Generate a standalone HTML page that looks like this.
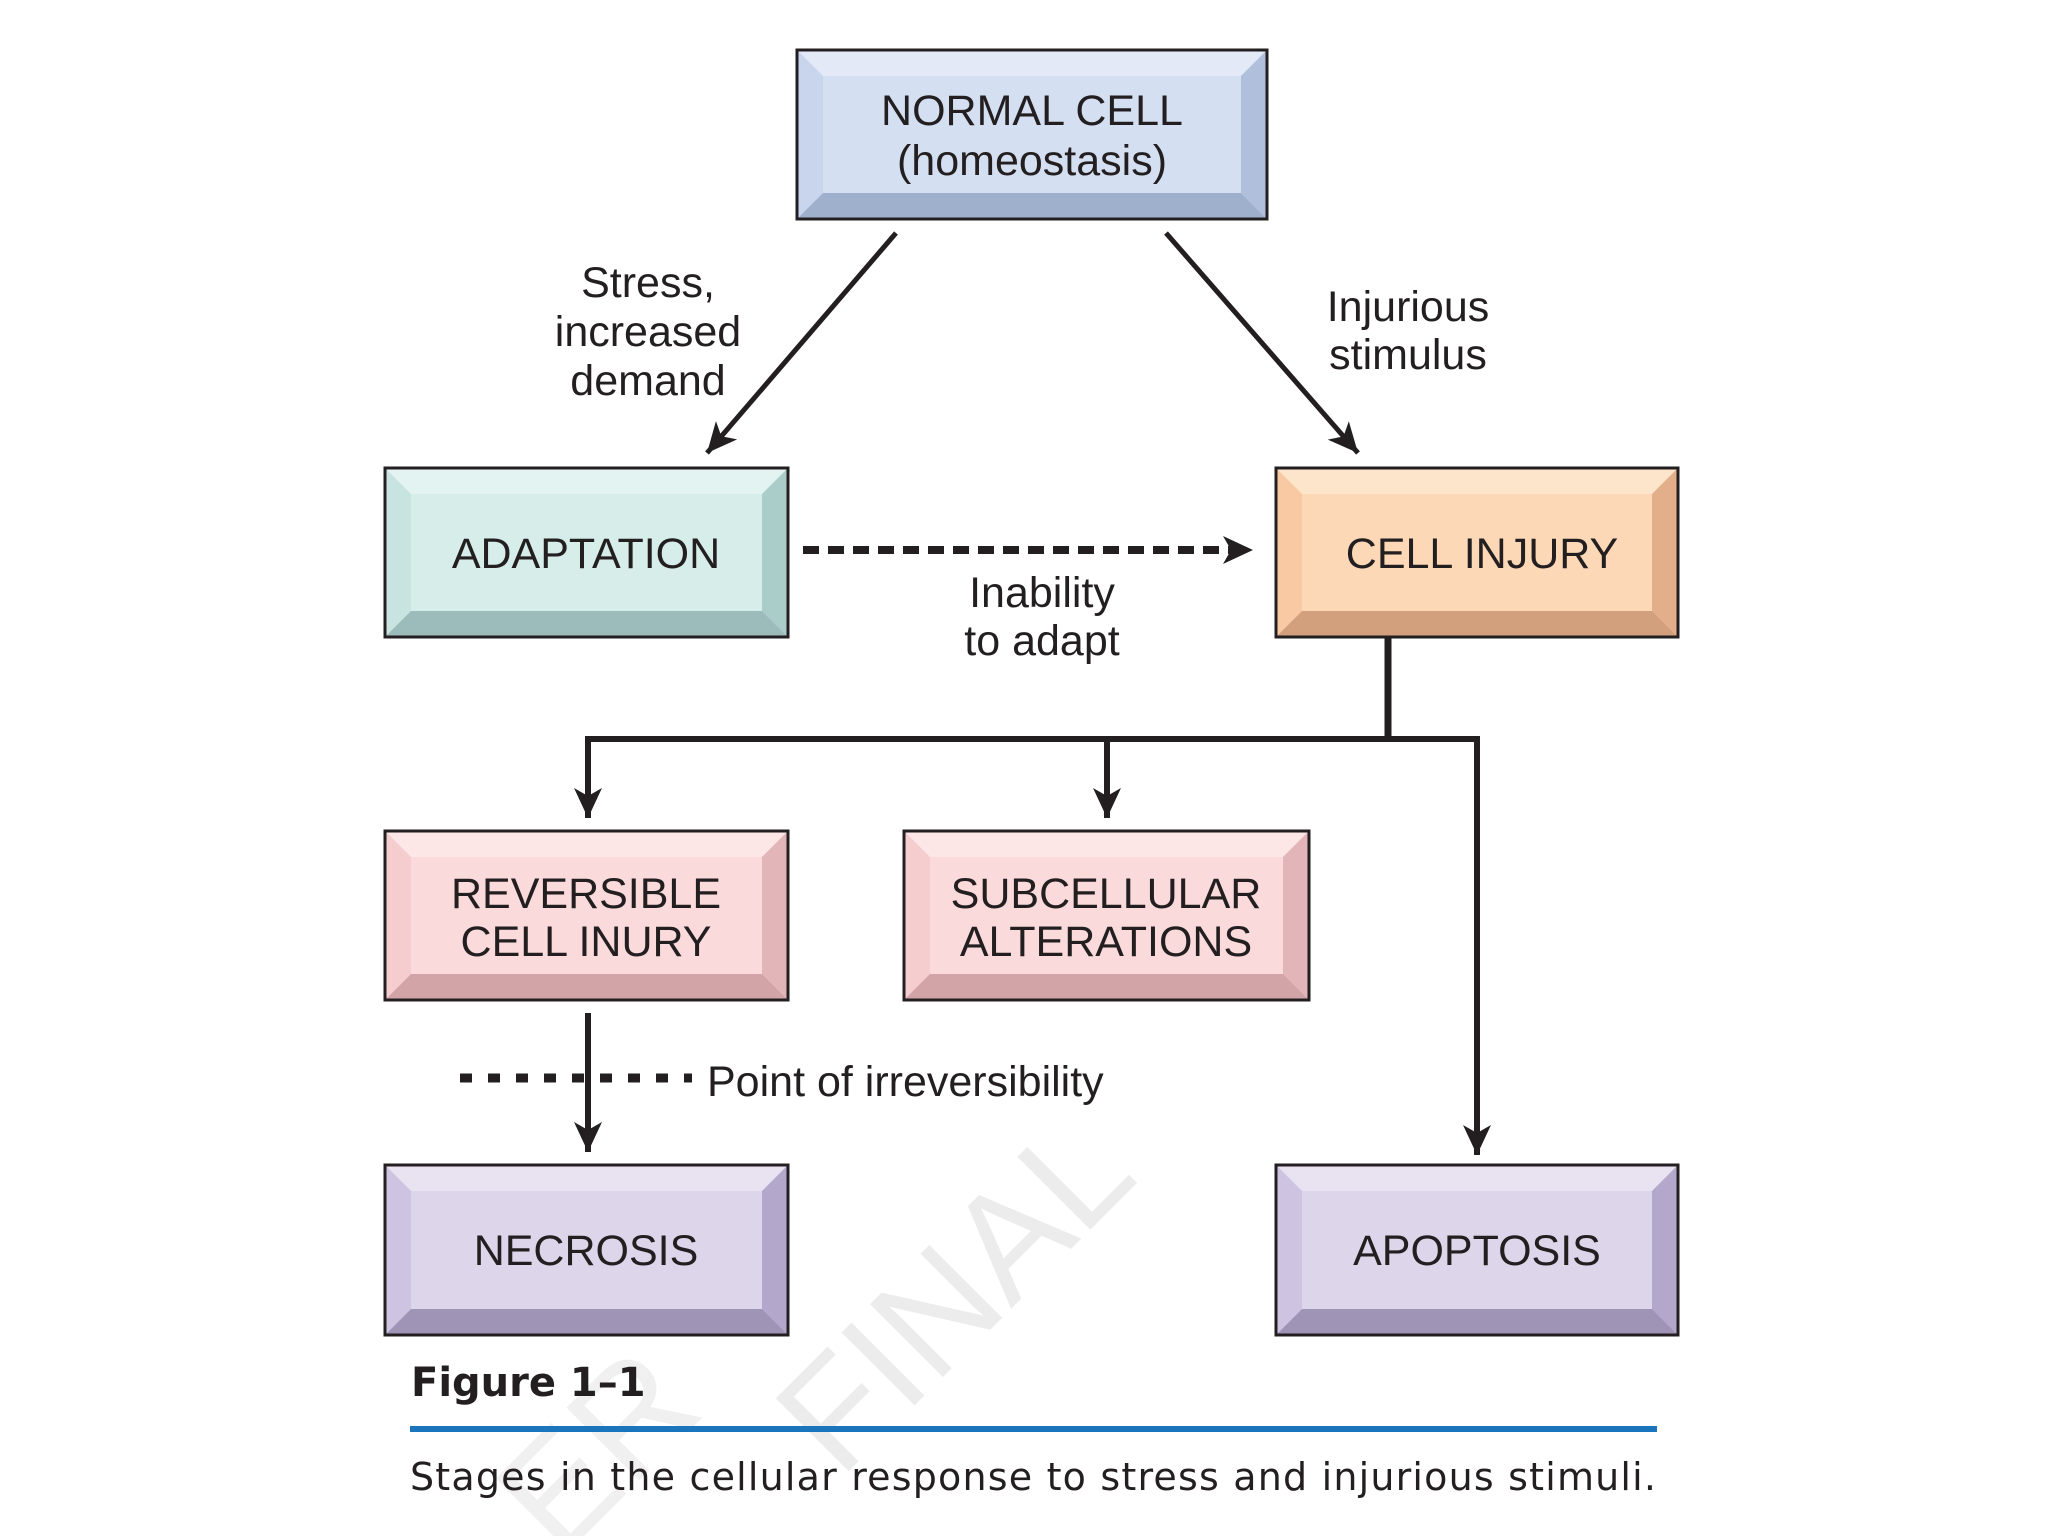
<!DOCTYPE html>
<html><head><meta charset="utf-8"><style>
html,body{margin:0;padding:0;background:#fff}
svg{display:block}
text{font-family:"Liberation Sans",Arial,sans-serif;fill:#231f20}
</style></head><body>
<svg width="2048" height="1536" viewBox="0 0 2048 1536" xmlns="http://www.w3.org/2000/svg">
<defs>
<marker id="ah" viewBox="0 0 30 34" refX="30" refY="17" markerWidth="30" markerHeight="34" markerUnits="userSpaceOnUse" orient="auto">
<path d="M0,3 L30,17 L0,31 L8,17 Z" fill="#231f20"/>
</marker>
</defs>

<!-- watermark -->
<text x="0" y="0" font-size="150" transform="translate(840,1480) rotate(-45)" style="fill:#ececec">FINAL</text>
<text x="0" y="0" font-size="150" transform="translate(560,1560) rotate(-45)" style="fill:#f0f0f0">ER</text>

<g>
<rect x="797" y="50" width="470" height="169" fill="#d4dff2"/>
<polygon points="797,50 1267,50 1241,76 823,76" fill="#e3e9f7"/>
<polygon points="797,50 823,76 823,193 797,219" fill="#c9d5ed"/>
<polygon points="1267,50 1267,219 1241,193 1241,76" fill="#b0bfdb"/>
<polygon points="797,219 823,193 1241,193 1267,219" fill="#9fb0cd"/>
<rect x="797" y="50" width="470" height="169" fill="none" stroke="#231f20" stroke-width="3"/>
<text x="1032" y="125" font-size="43" text-anchor="middle">NORMAL CELL</text>
<text x="1032" y="175" font-size="43" text-anchor="middle">(homeostasis)</text>
</g>
<g>
<rect x="385" y="468" width="403" height="169" fill="#d6edea"/>
<polygon points="385,468 788,468 762,494 411,494" fill="#e3f3f1"/>
<polygon points="385,468 411,494 411,611 385,637" fill="#c7e4e0"/>
<polygon points="788,468 788,637 762,611 762,494" fill="#aacdca"/>
<polygon points="385,637 411,611 762,611 788,637" fill="#9bbcba"/>
<rect x="385" y="468" width="403" height="169" fill="none" stroke="#231f20" stroke-width="3"/>
<text x="586" y="568" font-size="43" text-anchor="middle">ADAPTATION</text>
</g>
<g>
<rect x="1276" y="468" width="402" height="169" fill="#fcd8b6"/>
<polygon points="1276,468 1678,468 1652,494 1302,494" fill="#fde5cc"/>
<polygon points="1276,468 1302,494 1302,611 1276,637" fill="#f8c9a2"/>
<polygon points="1678,468 1678,637 1652,611 1652,494" fill="#e3ae8a"/>
<polygon points="1276,637 1302,611 1652,611 1678,637" fill="#d3a07d"/>
<rect x="1276" y="468" width="402" height="169" fill="none" stroke="#231f20" stroke-width="3"/>
<text x="1482" y="568" font-size="43" text-anchor="middle">CELL INJURY</text>
</g>
<g>
<rect x="385" y="831" width="403" height="169" fill="#fadadb"/>
<polygon points="385,831 788,831 762,857 411,857" fill="#fce6e6"/>
<polygon points="385,831 411,857 411,974 385,1000" fill="#f6cdce"/>
<polygon points="788,831 788,1000 762,974 762,857" fill="#e2b6b8"/>
<polygon points="385,1000 411,974 762,974 788,1000" fill="#d3a4a7"/>
<rect x="385" y="831" width="403" height="169" fill="none" stroke="#231f20" stroke-width="3"/>
<text x="586" y="908" font-size="43" text-anchor="middle">REVERSIBLE</text>
<text x="586" y="956" font-size="43" text-anchor="middle">CELL INURY</text>
</g>
<g>
<rect x="904" y="831" width="405" height="169" fill="#fadadb"/>
<polygon points="904,831 1309,831 1283,857 930,857" fill="#fce6e6"/>
<polygon points="904,831 930,857 930,974 904,1000" fill="#f6cdce"/>
<polygon points="1309,831 1309,1000 1283,974 1283,857" fill="#e2b6b8"/>
<polygon points="904,1000 930,974 1283,974 1309,1000" fill="#d3a4a7"/>
<rect x="904" y="831" width="405" height="169" fill="none" stroke="#231f20" stroke-width="3"/>
<text x="1106" y="908" font-size="43" text-anchor="middle">SUBCELLULAR</text>
<text x="1106" y="956" font-size="43" text-anchor="middle">ALTERATIONS</text>
</g>
<g>
<rect x="385" y="1165" width="403" height="170" fill="#ddd5ea"/>
<polygon points="385,1165 788,1165 762,1191 411,1191" fill="#e8e2f1"/>
<polygon points="385,1165 411,1191 411,1309 385,1335" fill="#cec4e2"/>
<polygon points="788,1165 788,1335 762,1309 762,1191" fill="#b3a8cb"/>
<polygon points="385,1335 411,1309 762,1309 788,1335" fill="#9f93b6"/>
<rect x="385" y="1165" width="403" height="170" fill="none" stroke="#231f20" stroke-width="3"/>
<text x="586" y="1265" font-size="43" text-anchor="middle">NECROSIS</text>
</g>
<g>
<rect x="1276" y="1165" width="402" height="170" fill="#ddd5ea"/>
<polygon points="1276,1165 1678,1165 1652,1191 1302,1191" fill="#e8e2f1"/>
<polygon points="1276,1165 1302,1191 1302,1309 1276,1335" fill="#cec4e2"/>
<polygon points="1678,1165 1678,1335 1652,1309 1652,1191" fill="#b3a8cb"/>
<polygon points="1276,1335 1302,1309 1652,1309 1678,1335" fill="#9f93b6"/>
<rect x="1276" y="1165" width="402" height="170" fill="none" stroke="#231f20" stroke-width="3"/>
<text x="1477" y="1265" font-size="43" text-anchor="middle">APOPTOSIS</text>
</g>

<g stroke="#231f20" fill="none" stroke-width="5">
<line x1="896" y1="233" x2="707" y2="453" marker-end="url(#ah)"/>
<line x1="1166" y1="233" x2="1358" y2="453" marker-end="url(#ah)"/>
<line x1="803" y1="550" x2="1253" y2="550" stroke-width="8" stroke-dasharray="16,9" marker-end="url(#ah)"/>
<polyline points="1388,637 1388,739" stroke-width="7"/>
<polyline points="588,818 588,739 1477,739 1477,1155" stroke-width="6" stroke-linejoin="miter" marker-end="url(#ah)"/>
<line x1="588" y1="739" x2="588" y2="818" stroke-width="6" marker-end="url(#ah)"/>
<line x1="1107" y1="739" x2="1107" y2="818" stroke-width="6" marker-end="url(#ah)"/>
<line x1="588" y1="1013" x2="588" y2="1152" stroke-width="6" marker-end="url(#ah)"/>
<line x1="460" y1="1078" x2="692" y2="1078" stroke-width="9" stroke-dasharray="12,16"/>
</g>

<g font-size="43" text-anchor="middle">
<text x="648" y="297">Stress,</text>
<text x="648" y="346">increased</text>
<text x="648" y="395">demand</text>
<text x="1408" y="321">Injurious</text>
<text x="1408" y="369">stimulus</text>
<text x="1042" y="607">Inability</text>
<text x="1042" y="655">to adapt</text>
</g>
<text x="707" y="1096" font-size="43">Point of irreversibility</text>

<text x="411" y="1396" font-size="40" font-weight="bold" style="font-family:'DejaVu Sans',sans-serif">Figure 1–1</text>
<rect x="410" y="1426" width="1247" height="6" fill="#1a75bc"/>
<text x="410" y="1490" font-size="38" style="font-family:'DejaVu Sans',sans-serif" textLength="1246">Stages in the cellular response to stress and injurious stimuli.</text>
</svg>
</body></html>
